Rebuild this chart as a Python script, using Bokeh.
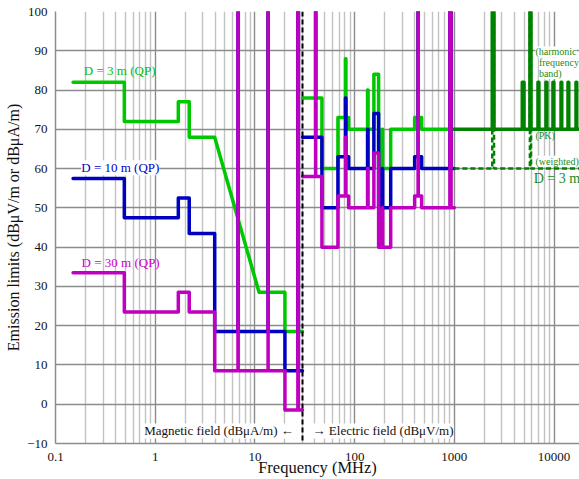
from bokeh.plotting import figure
from bokeh.models import Range1d, FixedTicker, Label, Span
from bokeh.embed import file_html
from bokeh.resources import INLINE

# ---- limit tables (MHz band edges, limit per band; 100 = unlimited ISM band) ----
# magnetic field, below 30 MHz
h_edges_3m = [0.15, 0.49, 1.705, 2.194, 3.95, 11, 13.553, 13.567, 20, 26.957, 27.283, 30]
h_limits_3m = [82, 72, 77, 68, (68, 28.5), 28.5, 100, 28.5, 18.5, 100, 18.5]
h_edges = [0.15, 0.49, 1.705, 2.194, 3.95, 6.765, 6.795, 13.553, 13.567, 20, 26.957, 27.283, 30]
h_limits_10m = [57.5, 47.5, 52.5, 43.5, 18.5, 100, 18.5, 100, 18.5, 8.5, 100, 8.5]
h_limits_30m = [33.5, 23.5, 28.5, 23.5, 8.5, 100, 8.5, 100, 8.5, -1.5, 100, -1.5]

# electric field, 30 MHz - 1 GHz
e_edges = [30, 40.66, 40.70, 47, 68, 80.872, 81.848, 87, 134.786, 136.414, 156, 174,
           188.7, 190.979, 230, 400, 433.05, 434.79, 470, 902, 928, 1000]
e_limits_3m = [78, 100, 78, 60, 73, 88, 73, 70, 80, 70, 84, 60, 70, 60, 70, 73, 100, 73, 70, 100, 70]
e_limits_10m = [68, 100, 68, 50, 63, 78, 63, 60, 70, 60, 74, 50, 60, 50, 60, 63, 100, 63, 60, 100, 60]
e_limits_30m = [58, 100, 58, 40, 53, 68, 53, 50, 60, 50, 64, 40, 50, 40, 50, 53, 100, 53, 50, 100, 50]

# above 1 GHz, 3 m: peak limit with harmonic bands, and weighted limit
pk_edges = [1000, 2400, 2500, 4800, 5000, 5725, 5875, 6900, 7050, 8300, 8480, 9750, 9950,
            11750, 11950, 13800, 14050, 16600, 16900, 18000]
pk_limits = [70, 100, 70, 82, 70, 100, 70, 82, 70, 82, 70, 82, 70, 82, 70, 82, 70, 82, 70]
wt_edges = [1000, 2400, 2500, 5725, 5875, 18000]
wt_limits = [60, 100, 60, 100, 60]

x_ticks = [0.1, 1, 10, 100, 1000, 10000]
x_tick_labels = ["0.1", "1", "10", "100", "1000", "10000"]
y_ticks = [-10, 0, 10, 20, 30, 40, 50, 60, 70, 80, 90, 100]

GREEN = "#00c800"
BLUE = "#0000c0"
MAGENTA = "#c000c0"
DKGREEN = "#008200"
SERIF = "Liberation Serif"


def step_path(edges, limits):
    """Turn a band table into a staircase polyline (tuple = sloped band)."""
    xs, ys = [], []
    for i, lim in enumerate(limits):
        a, b = lim if isinstance(lim, tuple) else (lim, lim)
        xs += [edges[i], edges[i + 1]]
        ys += [a, b]
    return xs, ys


p = figure(width=579, height=479, x_axis_type="log",
           x_range=Range1d(0.1, 18000), y_range=Range1d(-10, 100),
           output_backend="svg", toolbar_location=None,
           min_border_left=55, min_border_right=0, min_border_top=11, min_border_bottom=36)

p.outline_line_color = None
p.background_fill_color = "white"

# axes
p.xaxis.ticker = FixedTicker(ticks=x_ticks,
                             minor_ticks=[m * 10.0 ** k for k in range(-1, 5) for m in range(2, 10)])
p.xaxis.major_label_overrides = {t: s for t, s in zip(x_ticks, x_tick_labels)}
p.yaxis.ticker = FixedTicker(ticks=y_ticks)
p.yaxis.major_label_overrides = {-10: "\u221210"}
for ax in (p.xaxis, p.yaxis):
    ax.major_tick_line_color = None
    ax.minor_tick_line_color = None
    ax.major_tick_out = 0
    ax.major_tick_in = 0
    ax.axis_line_color = "#8c8c8c"
    ax.axis_line_width = 1.5
    ax.major_label_text_font = SERIF
    ax.major_label_text_font_size = "13px"
    ax.major_label_text_color = "#111111"
    ax.axis_label_text_font = SERIF
    ax.axis_label_text_font_style = "normal"
    ax.axis_label_text_color = "#111111"
p.xaxis.major_label_standoff = 5
p.yaxis.major_label_standoff = 8
p.xaxis.axis_label = "Frequency (MHz)"
p.yaxis.axis_label = "Emission limits (dB\u03bcV/m or dB\u03bcA/m)"
p.xaxis.axis_label_text_font_size = "16.5px"
p.yaxis.axis_label_text_font_size = "16px"
p.xaxis.axis_label_standoff = -6
p.yaxis.axis_label_standoff = 2

# grid
p.xgrid.grid_line_color = "#8c8c8c"
p.xgrid.grid_line_width = 1.4
p.xgrid.minor_grid_line_color = "#c2c2c2"
p.xgrid.minor_grid_line_width = 1.4
p.ygrid.grid_line_color = "#8c8c8c"
p.ygrid.grid_line_width = 1.4

LW = 3.5
kw = dict(line_width=LW, line_join="round", line_cap="round")

# 3 m
xs, ys = step_path(h_edges_3m, h_limits_3m)
p.line(xs, ys, line_color=GREEN, **kw)
xs, ys = step_path(e_edges, e_limits_3m)
p.line(xs, ys, line_color=GREEN, **kw)
# 10 m
xs, ys = step_path(h_edges, h_limits_10m)
p.line(xs, ys, line_color=BLUE, **kw)
xs, ys = step_path(e_edges, e_limits_10m)
p.line(xs, ys, line_color=BLUE, **kw)
# 30 m
xs, ys = step_path(h_edges, h_limits_30m)
p.line(xs, ys, line_color=MAGENTA, **kw)
xs, ys = step_path(e_edges, e_limits_30m)
p.line(xs, ys, line_color=MAGENTA, **kw)
# above 1 GHz
xs, ys = step_path(wt_edges, wt_limits)
p.line(xs, ys, line_color=DKGREEN, line_width=2.5, line_dash="5 3")
xs, ys = step_path(pk_edges, pk_limits)
p.line(xs, ys, line_color=DKGREEN, **kw)

# boundary between magnetic and electric field limits
p.add_layout(Span(location=30, dimension="height", line_color="black",
                  line_width=2, line_dash="5 3"))


def label(x, y, text, color, size="13px", align="left", bg=None):
    p.add_layout(Label(x=x, y=y, text=text, text_color=color, text_font=SERIF,
                       text_font_size=size, text_align=align, text_baseline="middle",
                       background_fill_color=bg))


label(0.44, 85.1, "D = 3 m (QP)", "#00c000", align="center")
label(0.447, 60.2, "D = 10 m (QP)", "#0000c8", align="center", bg="white")
label(0.45, 36.0, "D = 30 m (QP)", "#c800c8", align="center")

label(24.5, -6.8, "Magnetic field (dB\u03bcA/m) \u2190", "#111111", align="right", bg="white")
label(37.9, -6.8, "\u2192 Electric field (dB\u03bcV/m)", "#111111", align="left", bg="white")

label(6500, 89.7, "(harmonic", "#1a8a1a", size="10px", bg="white")
label(7050, 86.9, "frequency", "#1a8a1a", size="10px", bg="white")
label(7050, 84.2, "band)", "#1a8a1a", size="10px", bg="white")
label(6500, 68.3, "(PK)", "#1a8a1a", size="10px")
label(6500, 61.9, "(weighted)", "#1a8a1a", size="10px", bg="white")
label(6250, 57.6, "D = 3 m", "#1a8a1a", size="14px")

open("out.html", "w").write(file_html(p, INLINE))
